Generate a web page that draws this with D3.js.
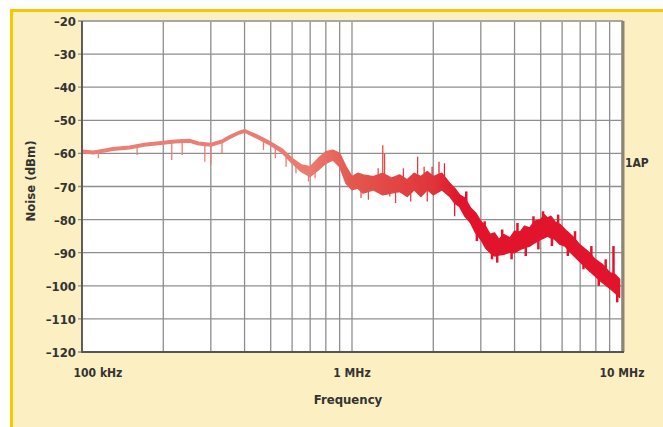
<!DOCTYPE html>
<html>
<head>
<meta charset="utf-8">
<script src="https://cdn.jsdelivr.net/npm/d3@7"></script>
<style>
  body { margin: 0; background: #fff; }
  svg { display: block; }
  text { font-family: "Liberation Sans Narrow", "DejaVu Sans Condensed", sans-serif; font-stretch: condensed; font-weight: bold; fill: #333; }
</style>
</head>
<body>
<svg width="663" height="427"></svg>
<script>
// frequency in kHz, upper and lower edge of the trace in dBm
var freqs = [100, 110, 120, 130, 150, 170, 200, 220, 250, 270, 300, 330, 350, 380, 400, 420, 450, 500, 550, 600,
  650, 700, 750, 800, 850, 900, 950, 1000, 1050, 1100, 1200, 1300, 1400, 1500, 1600, 1700, 1800, 1900, 2000, 2150,
  2300, 2400, 2500, 2620, 2750, 2870, 3000, 3120, 3250, 3370, 3500, 3650, 3850, 4000, 4200, 4350, 4550, 4750, 5000,
  5150, 5300, 5450, 5650, 5900, 6150, 6550, 7000, 7450, 7950, 8450, 9000, 9400, 9800];
var hi = [-59.0, -59.3, -58.8, -58.3, -57.8, -57.0, -56.4, -56.0, -55.8, -56.6, -57.0, -56.0, -54.8, -53.4, -52.8, -53.6, -54.6, -56.6, -58.6, -61.5,
  -63.5, -64.0, -61.5, -59.5, -59.0, -60.0, -64.0, -67.0, -66.0, -66.5, -67.0, -66.0, -67.5, -66.5, -68.0, -66.0, -67.0, -65.5, -67.0, -66.0,
  -69.0, -70.5, -72.5, -73.5, -76.5, -78.0, -80.5, -82.0, -84.5, -84.0, -86.0, -84.5, -85.5, -83.5, -83.7, -82.0, -82.5, -80.5, -80.0,
  -78.5, -79.5, -79.0, -80.7, -81.5, -83.0, -85.0, -87.7, -89.5, -92.0, -93.5, -96.0, -96.5, -98.0];
var lo = [-59.8, -60.1, -59.6, -59.1, -58.6, -57.8, -57.2, -56.8, -56.6, -57.4, -57.8, -56.8, -55.6, -54.2, -53.6, -54.4, -55.6, -57.6, -59.8, -63.0,
  -65.5, -67.0, -65.0, -63.0, -62.0, -64.0, -69.0, -71.0, -70.5, -72.0, -71.0, -72.5, -72.0, -71.5, -73.0, -71.0, -73.0, -71.0, -72.5, -71.0,
  -73.0, -75.0, -76.0, -79.0, -81.0, -84.0, -86.0, -88.5, -90.0, -91.0, -90.7, -90.5, -89.8, -90.0, -89.0, -88.5, -88.0, -87.0, -86.0,
  -85.5, -85.0, -85.5, -86.0, -87.5, -88.0, -90.5, -92.8, -95.0, -97.0, -99.0, -100.7, -102.0, -103.5];

// narrow spikes off the trace: frequency (kHz), tip value (dBm)
var spikeFreqs = [115, 160, 215, 235, 285, 300, 330, 470, 520, 570, 620, 690, 730, 1150, 1300, 1320, 1450, 1750, 1850, 1900, 2100, 2200, 2400, 9300,
  1080, 1250, 1380, 1550, 1650, 1980, 2650, 2900, 3100, 3300, 3450, 3600, 3900, 4100, 4400, 4700, 4900, 5100, 5500, 5800, 6300, 6700, 7200, 7700, 8200, 8700, 9600];
var spikeTips = [-61.5, -60.5, -62, -60.5, -62.5, -63.5, -60, -59, -61.5, -64, -66, -68.5, -67.5, -74, -57.5, -60, -75, -61, -64, -74.5, -62.5, -63, -79, -88,
  -73.5, -64.5, -73, -64.5, -74.5, -64, -71.5, -86.5, -80.5, -92, -93, -83, -92, -81, -91, -79, -89, -77.5, -88, -78.5, -91, -83.5, -95, -88, -100, -92, -105];

var yTicks = [-20, -30, -40, -50, -60, -70, -80, -90, -100, -110, -120];
var xTickValues = [100, 1000, 10000];
var xTickLabels = ["100 kHz", "1 MHz", "10 MHz"];

var svg = d3.select("svg");

// cream panel with yellow frame
svg.append("rect").attr("x", 10).attr("y", 10).attr("width", 653).attr("height", 417).attr("fill", "#fcefc2");
svg.append("line").attr("x1", 10).attr("x2", 663).attr("y1", 10.5).attr("y2", 10.5).attr("stroke", "#f6c800").attr("stroke-width", 3);
svg.append("line").attr("x1", 11.5).attr("x2", 11.5).attr("y1", 9).attr("y2", 427).attr("stroke", "#f6c800").attr("stroke-width", 3);

var pLeft = 82, pRight = 622, pTop = 21, pBottom = 352;

var x = d3.scaleLog().domain([100, 10000]).range([pLeft, pRight]);
var y = d3.scaleLinear().domain([-120, -20]).range([pBottom, pTop]);

svg.append("rect").attr("x", pLeft).attr("y", pTop).attr("width", pRight - pLeft).attr("height", pBottom - pTop).attr("fill", "#fff");

// grid
var g = svg.append("g");
g.selectAll(".vg").data(x.ticks()).enter().append("line")
  .attr("x1", function(d) { return x(d); }).attr("x2", function(d) { return x(d); })
  .attr("y1", pTop).attr("y2", pBottom)
  .attr("stroke", "#8e8e8e").attr("stroke-width", 1.3);
g.selectAll(".hg").data(yTicks).enter().append("line")
  .attr("x1", pLeft - 4).attr("x2", pRight)
  .attr("y1", function(d) { return y(d); }).attr("y2", function(d) { return y(d); })
  .attr("stroke", "#8e8e8e").attr("stroke-width", 1.3);

// trace colour: salmon on the left, deep red on the right
var span = pRight - pLeft;
var grad = svg.append("defs").append("linearGradient").attr("id", "tr")
  .attr("gradientUnits", "userSpaceOnUse")
  .attr("x1", pLeft).attr("x2", pRight).attr("y1", 0).attr("y2", 0);
grad.append("stop").attr("offset", 0).attr("stop-color", "#e98078");
grad.append("stop").attr("offset", (x(700) - pLeft) / span).attr("stop-color", "#ec7a70");
grad.append("stop").attr("offset", (x(1000) - pLeft) / span).attr("stop-color", "#e3584e");
grad.append("stop").attr("offset", (x(2000) - pLeft) / span).attr("stop-color", "#e0343a");
grad.append("stop").attr("offset", (x(2500) - pLeft) / span).attr("stop-color", "#e2142c");
grad.append("stop").attr("offset", 1).attr("stop-color", "#e2142c");

var pts = freqs.map(function(f, i) { return {f: f, hi: hi[i], lo: lo[i]}; });

var area = d3.area()
  .x(function(d) { return x(d.f); })
  .y0(function(d) { return y(d.lo); })
  .y1(function(d) { return y(d.hi); });

svg.append("path").datum(pts)
  .attr("d", area)
  .attr("fill", "url(#tr)")
  .attr("stroke", "url(#tr)")
  .attr("stroke-width", 1.4)
  .attr("stroke-linejoin", "round");

// spikes
svg.selectAll(".spk").data(spikeFreqs).enter().append("line")
  .attr("x1", function(d) { return x(d); }).attr("x2", function(d) { return x(d); })
  .attr("y1", function(d) {
    var i = d3.bisectLeft(freqs, d);
    var a = pts[Math.max(0, i - 1)], b = pts[Math.min(pts.length - 1, i)];
    return y((a.hi + a.lo + b.hi + b.lo) / 4);
  })
  .attr("y2", function(d, i) { return y(spikeTips[i]); })
  .attr("stroke", "url(#tr)")
  .attr("stroke-width", function(d) { return d > 2500 ? 2.5 : 1.3; });

// plot frame
svg.append("line").attr("x1", pLeft).attr("x2", pRight + 1).attr("y1", pTop).attr("y2", pTop).attr("stroke", "#a8a8a0").attr("stroke-width", 2);
svg.append("line").attr("x1", pRight + 1).attr("x2", pRight + 1).attr("y1", pTop).attr("y2", pBottom).attr("stroke", "#8d8676").attr("stroke-width", 3);
svg.append("line").attr("x1", pLeft).attr("x2", pLeft).attr("y1", pTop).attr("y2", pBottom + 1).attr("stroke", "#555").attr("stroke-width", 1.8);
svg.append("line").attr("x1", pLeft).attr("x2", pRight + 2).attr("y1", pBottom).attr("y2", pBottom).attr("stroke", "#555").attr("stroke-width", 1.8);

// y tick labels
svg.selectAll(".yl").data(yTicks).enter().append("text")
  .attr("x", pLeft - 6)
  .attr("y", function(d) { return y(d) + 5; })
  .attr("text-anchor", "end")
  .attr("font-size", 13)
  .text(function(d) { return "\u2013" + Math.abs(d); });

// x tick labels
svg.selectAll(".xl").data(xTickValues).enter().append("text")
  .attr("x", function(d, i) { return x(d) + (i === 0 ? 16 : 0); })
  .attr("y", 377)
  .attr("text-anchor", "middle")
  .attr("font-size", 12)
  .text(function(d, i) { return xTickLabels[i]; });

svg.append("text").attr("x", 348).attr("y", 404).attr("text-anchor", "middle").attr("font-size", 13).text("Frequency");
svg.append("text").attr("transform", "translate(35,181) rotate(-90)").attr("text-anchor", "middle").attr("font-size", 13).text("Noise (dBm)");
svg.append("text").attr("x", 625).attr("y", 167).attr("font-size", 12).text("1AP");
</script>
</body>
</html>
